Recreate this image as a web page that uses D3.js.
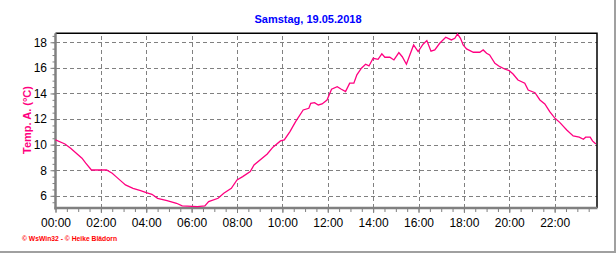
<!DOCTYPE html>
<meta charset="utf-8">

<!-- Load d3.js -->
<script src="https://d3js.org/d3.v7.min.js"></script>

<style>
    body { margin: 0; background: #fff; }
</style>

<div id="div_chart"></div>

<script>

    // data (time of day, outside temperature in °C)
    var times = [
        "00:00", "00:25", "00:40", "00:55", "01:10", "01:20", "01:35", "02:15", "02:30", "02:40",
        "02:55", "03:05", "03:25", "03:45", "04:00", "04:15", "04:30", "04:55", "05:20", "05:35",
        "06:15", "06:35", "06:45", "07:10", "07:25", "07:45", "08:00", "08:15", "08:35", "08:45",
        "09:20", "09:35", "09:55", "10:05", "10:20", "10:35", "10:55", "11:10", "11:15", "11:25",
        "11:35", "11:45", "11:58", "12:10", "12:25", "12:36", "12:47", "12:58", "13:09", "13:17",
        "13:29", "13:40", "13:49", "14:00", "14:13", "14:23", "14:31", "14:44", "14:55", "15:08",
        "15:17", "15:28", "15:37", "15:47", "15:59", "16:12", "16:22", "16:33", "16:43", "16:56",
        "17:12", "17:27", "17:36", "17:43", "17:51", "17:58", "18:07", "18:25", "18:42", "18:51",
        "19:00", "19:08", "19:22", "19:35", "19:49", "20:00", "20:10", "20:23", "20:41", "20:50",
        "21:08", "21:21", "21:34", "21:47", "22:01", "22:14", "22:32", "22:49", "23:05", "23:16",
        "23:22", "23:34", "23:40", "23:49"
    ];
    var temps = [
        10.37, 10.05, 9.72, 9.33, 8.94, 8.55, 8.02, 8.02, 7.77, 7.50,
        7.11, 6.85, 6.59, 6.41, 6.25, 6.12, 5.81, 5.63, 5.42, 5.21,
        5.16, 5.21, 5.55, 5.81, 6.20, 6.59, 7.24, 7.50, 7.89, 8.41,
        9.27, 9.80, 10.29, 10.37, 11.02, 11.80, 12.71, 12.84, 13.23, 13.28,
        13.10, 13.18, 13.49, 14.33, 14.53, 14.33, 14.14, 14.80, 14.80, 15.45,
        15.97, 16.28, 16.15, 16.75, 16.67, 17.09, 16.83, 16.83, 16.62, 17.19,
        16.87, 16.28, 17.01, 17.79, 17.27, 17.85, 18.13, 17.30, 17.40, 17.92,
        18.39, 18.18, 18.31, 18.65, 18.31, 17.79, 17.48, 17.22, 17.22, 17.40,
        17.14, 17.01, 16.36, 16.09, 15.89, 15.78, 15.52, 15.05, 14.80, 14.27,
        14.06, 13.49, 13.18, 12.58, 12.06, 11.72, 11.15, 10.68, 10.58, 10.42,
        10.58, 10.58, 10.29, 10.05
    ];

    var xTickLabels = ["00:00", "02:00", "04:00", "06:00", "08:00", "10:00",
                       "12:00", "14:00", "16:00", "18:00", "20:00", "22:00"];
    var yTicks = [6, 8, 10, 12, 14, 16, 18];

    var title = "Samstag, 19.05.2018";
    var yTitle = "Temp. A. (°C)";
    var footer = "© WsWin32 - © Heike Blädorn";

    function toMinutes(s) {
        var p = s.split(":");
        return +p[0] * 60 + +p[1];
    }

    var data = times.map(function (t, i) { return {m: toMinutes(t), v: temps[i]}; });
    var xTicks = xTickLabels.map(toMinutes);
    var minorX = d3.range(0, 24 * 60, 30);
    var minorY = d3.range(5.5, 18.51, 0.5);

    var fontFamily = "Arial, 'Liberation Sans', sans-serif";
    // plot box (note: "top" is taken by window.top)
    var plotLeft = 55.5, plotRight = 597, plotTop = 33.3, plotBottom = 208;

    var svg = d3.select("#div_chart")
        .append("svg")
            .attr("width", 616)
            .attr("height", 253)
            .style("display", "block");

    var x = d3.scaleLinear().domain([0, 1432]).range([plotLeft, plotRight]);
    var y = d3.scaleLinear().domain([5.05, 18.7]).range([plotBottom, plotTop]);

    // outer frame (right + bottom only)
    svg.append("line")
        .attr("x1", 0).attr("x2", 616).attr("y1", 252).attr("y2", 252)
        .attr("stroke", "#a0a0a0").attr("stroke-width", 2);
    svg.append("line")
        .attr("x1", 615).attr("x2", 615).attr("y1", 0).attr("y2", 253)
        .attr("stroke", "#a0a0a0").attr("stroke-width", 2);

    // grid
    var gridX = svg.append("g")
        .attr("transform", "translate(0," + plotBottom + ")")
        .call(d3.axisBottom(x).tickValues(xTicks.slice(1)).tickSize(-(plotBottom - plotTop)).tickFormat(""));
    var gridY = svg.append("g")
        .attr("transform", "translate(" + plotLeft + ",0)")
        .call(d3.axisLeft(y).tickValues(yTicks).tickSize(-(plotRight - plotLeft)).tickFormat(""));
    [gridX, gridY].forEach(function (g) {
        g.select(".domain").remove();
        g.selectAll("line")
            .attr("stroke", "#808080")
            .attr("stroke-dasharray", "4,3")
            .attr("shape-rendering", "crispEdges");
    });

    // top and right border of the plot
    svg.append("path")
        .attr("d", "M" + plotLeft + "," + plotTop + "H" + plotRight + "V" + plotBottom)
        .attr("fill", "none")
        .attr("stroke", "#000")
        .attr("stroke-width", 1.5);

    // minor ticks
    var minorXAxis = svg.append("g")
        .attr("transform", "translate(0," + plotBottom + ")")
        .call(d3.axisBottom(x).tickValues(minorX).tickSize(4).tickFormat(""));
    var minorYAxis = svg.append("g")
        .attr("transform", "translate(" + plotLeft + ",0)")
        .call(d3.axisLeft(y).tickValues(minorY).tickSize(3).tickFormat(""));

    // major ticks + labels
    var xAxis = svg.append("g")
        .attr("transform", "translate(0," + plotBottom + ")")
        .call(d3.axisBottom(x).tickValues(xTicks).tickSize(5).tickPadding(5)
            .tickFormat(function (d, i) { return xTickLabels[i]; }));
    var yAxis = svg.append("g")
        .attr("transform", "translate(" + plotLeft + ",0)")
        .call(d3.axisLeft(y).tickValues(yTicks).tickSize(5).tickPadding(3.5));

    [minorXAxis, minorYAxis, xAxis, yAxis].forEach(function (g) {
        g.select(".domain").remove();
        g.selectAll("line").attr("stroke", "#808080");
        g.selectAll("text")
            .attr("fill", "#000")
            .style("font-family", fontFamily)
            .style("font-size", "12px");
    });

    // thick gray axes
    svg.append("line")
        .attr("x1", plotLeft).attr("x2", plotLeft).attr("y1", plotTop).attr("y2", plotBottom + 1.5)
        .attr("stroke", "#808080").attr("stroke-width", 2.5);
    svg.append("line")
        .attr("x1", plotLeft - 1).attr("x2", plotRight + 0.5).attr("y1", plotBottom).attr("y2", plotBottom)
        .attr("stroke", "#808080").attr("stroke-width", 2.5);

    // temperature line
    var line = d3.line()
        .x(function (d) { return x(d.m); })
        .y(function (d) { return y(d.v); });

    svg.append("path")
        .datum(data)
        .attr("d", line)
        .attr("fill", "none")
        .attr("stroke", "#ff0080")
        .attr("stroke-width", 1.3);

    // texts
    svg.append("text")
        .attr("x", 308).attr("y", 23)
        .attr("text-anchor", "middle")
        .attr("fill", "#0000ff")
        .style("font-family", fontFamily)
        .style("font-weight", "bold")
        .style("font-size", "11px")
        .text(title);

    svg.append("text")
        .attr("transform", "translate(31,120) rotate(-90)")
        .attr("text-anchor", "middle")
        .attr("fill", "#ff0080")
        .style("font-family", fontFamily)
        .style("font-weight", "bold")
        .style("font-size", "11px")
        .text(yTitle);

    svg.append("text")
        .attr("x", 22).attr("y", 241)
        .attr("textLength", 95)
        .attr("lengthAdjust", "spacingAndGlyphs")
        .attr("fill", "#ff0000")
        .style("font-family", fontFamily)
        .style("font-weight", "bold")
        .style("font-size", "7px")
        .text(footer);

</script>
